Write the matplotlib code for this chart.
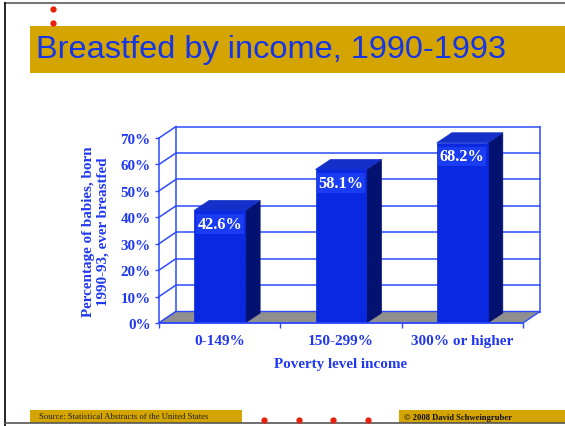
import matplotlib
matplotlib.use('Agg')
import matplotlib.pyplot as plt
from matplotlib.patches import Polygon, Rectangle
import numpy as np

#%% Data

categories = ['0-149%', '150-299%', '300% or higher']
values = [42.6, 58.1, 68.2]
value_labels = ['42.6%', '58.1%', '68.2%']
yticks = [0, 10, 20, 30, 40, 50, 60, 70]
ytick_labels = ['{}%'.format(t) for t in yticks]

title = 'Breastfed by income, 1990-1993'
ylabel = 'Percentage of babies, born\n1990-93, ever breastfed'
xlabel = 'Poverty level income'
source = 'Source: Statistical Abstracts of the United States'
credit = '\u00a9 2008 David Schweingruber'

#%% Styles

W, H = 565, 427
gold = '#D4A500'
txt_blue = '#2038F0'
grid_blue = '#2E4BFF'
front_c = '#0A28E0'
side_c = '#031270'
top_c = '#1530C8'
floor_c = '#8F8F8F'
red = '#E8200A'
serif = 'Liberation Serif'

fig = plt.figure(figsize=(W/100, H/100), dpi=100)

# Background (slide) in pixel coordinates
bg = fig.add_axes([0, 0, 1, 1], zorder=0)
bg.set_xlim(0, W)
bg.set_ylim(H, 0)
bg.axis('off')

bg.plot([5, W], [4, 4], color='#777777', lw=1.5)
bg.plot([5, 5], [4, H], color='black', lw=1.2)
bg.plot([5, W], [424, 424], color='#555555', lw=1.2)
bg.add_patch(Rectangle((30, 27), W - 30, 47, color=gold, lw=0))
bg.text(36, 50, title, color='#1535E8', fontsize=23.4, family='Liberation Sans',
        va='center', ha='left')
bg.plot([53, 53], [10, 24], 'o', color=red, ms=3.5)

bg.add_patch(Rectangle((30, 411), 212, 13, color=gold, lw=0))
bg.add_patch(Rectangle((399, 411), W - 399, 13, color=gold, lw=0))
bg.text(39, 417, source, fontsize=6.2, family=serif, color='#222222',
        va='center')
bg.text(404, 418, credit, fontsize=6.2, family=serif, color='#111111',
        va='center', weight='bold')
bg.plot([264, 299, 333, 368], [421]*4, 'o', color=red, ms=3.5)

#%% Chart axes (front plane)

left, right, y0, y70 = 159, 523, 324, 139
ax = fig.add_axes([left/W, (H - y0)/H, (right - left)/W, (y0 - y70)/H],
                  zorder=1)
ax.set_xlim(-0.5, 2.5)
ax.set_ylim(0, 70)
ax.patch.set_visible(False)

px_x = 3.0/(right - left)   # data units per pixel (x)
px_y = 70.0/(y0 - y70)      # data units per pixel (y)
dx, dy = 17*px_x, 11.5*px_y       # wall depth
bdx, bdy = 15*px_x, 10*px_y       # bar depth
bw = 0.42

x0, x1 = -0.5, 2.5
# back wall and grid
for t in yticks:
    ax.plot([x0 + dx, x1 + dx], [t + dy, t + dy], color=grid_blue, lw=1.1,
            clip_on=False, zorder=1)
    ax.plot([x0, x0 + dx], [t, t + dy], color=grid_blue, lw=1.1,
            clip_on=False, zorder=1)
ax.plot([x0 + dx, x0 + dx], [dy, 70 + dy], color=grid_blue, lw=1.1,
        clip_on=False, zorder=1)
ax.plot([x1 + dx, x1 + dx], [dy, 70 + dy], color=grid_blue, lw=1.1,
        clip_on=False, zorder=1)

# floor
ax.add_patch(Polygon([[x0, 0], [x1, 0], [x1 + dx, dy], [x0 + dx, dy]],
                     closed=True, facecolor=floor_c, edgecolor=grid_blue,
                     lw=1.0, clip_on=False, zorder=2))

# bars
for i, v in enumerate(values):
    xl, xr = i - bw/2, i + bw/2
    ax.add_patch(Polygon([[xr, 0], [xr + bdx, bdy], [xr + bdx, v + bdy], [xr, v]],
                         facecolor=side_c, edgecolor=side_c, lw=0.5,
                         clip_on=False, zorder=3))
    ax.add_patch(Polygon([[xl, v], [xr, v], [xr + bdx, v + bdy], [xl + bdx, v + bdy]],
                         facecolor=top_c, edgecolor=top_c, lw=0.5,
                         clip_on=False, zorder=3))
    ax.add_patch(Rectangle((xl, 0), bw, v, facecolor=front_c,
                           edgecolor=front_c, lw=0.5, zorder=4))
    ax.text(i, v - 13.5*px_y, value_labels[i], color='white', weight='bold',
            family=serif, fontsize=11.8, ha='center', va='center', zorder=5,
            bbox=dict(boxstyle='square,pad=0.1', facecolor='#1A3CF2',
                      edgecolor='none'))

# spines and ticks
for s in ['top', 'right']:
    ax.spines[s].set_visible(False)
for s in ['left', 'bottom']:
    ax.spines[s].set_color(grid_blue)
    ax.spines[s].set_linewidth(1.1)
    ax.spines[s].set_zorder(6)

ax.set_yticks(yticks)
ax.set_yticklabels(ytick_labels)
ax.tick_params(axis='y', colors=grid_blue, length=3, width=1, pad=3)
for lab in ax.get_yticklabels():
    lab.set_color(txt_blue)
    lab.set_family(serif)
    lab.set_weight('bold')
    lab.set_fontsize(10.8)

ax.set_xticks([0, 1, 2])
ax.set_xticklabels(categories)
ax.set_xticks([-0.5, 0.5, 1.5, 2.5], minor=True)
ax.tick_params(axis='x', which='major', length=0, pad=8)
ax.tick_params(axis='x', which='minor', colors=grid_blue, length=3.5, width=1)
for lab in ax.get_xticklabels():
    lab.set_color(txt_blue)
    lab.set_family(serif)
    lab.set_weight('bold')
    lab.set_fontsize(11)

ax.set_ylabel(ylabel, color=txt_blue, family=serif, weight='bold',
              fontsize=10.9, linespacing=1.15)
ax.yaxis.set_label_coords(-0.135, 0.5)
ax.set_xlabel(xlabel, color=txt_blue, family=serif, weight='bold',
              fontsize=10.9)
ax.xaxis.set_label_coords(0.5, -0.185)

plt.savefig('out.png', dpi=100)
